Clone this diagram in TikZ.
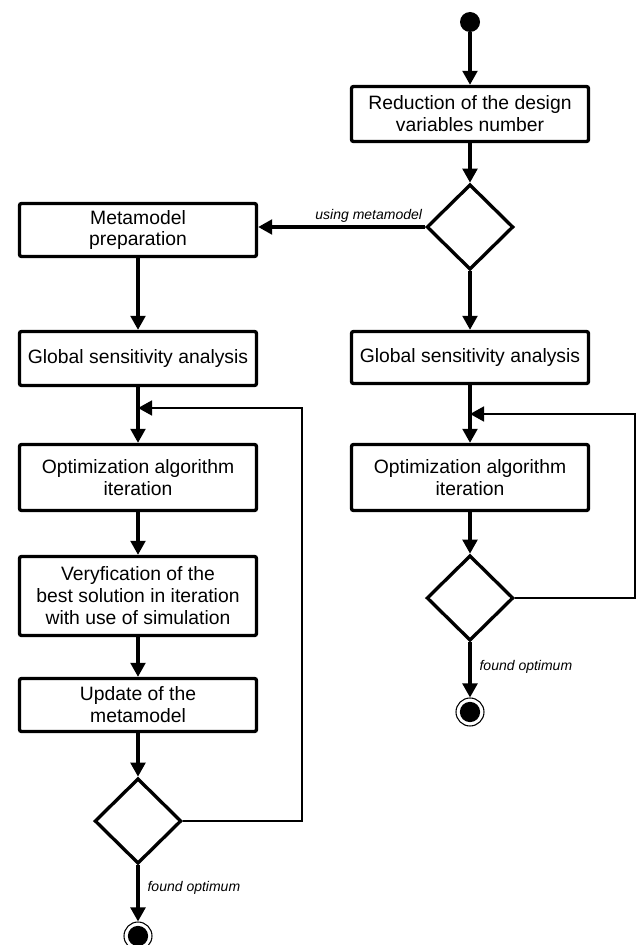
\documentclass[tikz,border=0pt]{standalone}
\usepackage{fontspec}
\setmainfont{Liberation Sans}
\usetikzlibrary{shapes.geometric,arrows.meta}
\begin{document}
\begin{tikzpicture}[x=0.75pt,y=-0.75pt,
  box/.style={draw, line width=2.5pt, rounded corners=1.5pt, minimum width=177.75pt, inner sep=2pt, align=center, font=\fontsize{14.5}{16.5}\selectfont},
  dia/.style={diamond, draw, line width=2.5pt, minimum width=65pt, minimum height=64pt, inner sep=0pt, aspect=1},
  arr/.style={line width=2.4pt, -{Triangle[length=10.5pt,width=11pt]}},
  loopl/.style={line width=2pt, -{Triangle[length=10.5pt,width=11pt]}},
  lab/.style={font=\itshape\fontsize{10.5}{12}\selectfont, inner sep=0pt},
  startc/.style={circle, fill, minimum size=15pt, inner sep=0pt},
  endc/.style={circle, draw, line width=0.8pt, minimum size=21pt, inner sep=0pt,
    path picture={\fill (path picture bounding box.center) circle (7.6pt);}}
]
\useasboundingbox (0,0) rectangle (639,945);

% right column
\node[startc] (start) at (470,22) {};
\node[box, minimum height=41.25pt] (red) at (470,114) {Reduction of the design\\variables number};
\node[dia] (d0) at (470,227) {};
\node[box, minimum height=39pt] (gsaR) at (470,357.5) {Global sensitivity analysis};
\node[box, minimum height=49.5pt] (optR) at (470,477.5) {Optimization algorithm\\iteration};
\node[dia] (dR) at (470,598) {};
\node[endc] (endR) at (470,712) {};
\coordinate (jR) at (470,414);

% left column
\node[box, minimum height=39.75pt] (meta) at (138,230) {Metamodel\\preparation};
\node[box, minimum height=40.5pt] (gsaL) at (138,358.5) {Global sensitivity analysis};
\node[box, minimum height=49.5pt] (optL) at (138,477.5) {Optimization algorithm\\iteration};
\node[box, minimum height=59.25pt] (verL) at (138,596) {Veryfication of the\\best solution in iteration\\with use of simulation};
\node[box, minimum height=39.75pt] (updL) at (138,705) {Update of the\\metamodel};
\node[dia] (dL) at (138,821) {};
\node[endc] (endL) at (138,936) {};
\coordinate (jL) at (138,408);

% connectors right
\draw[arr] (start) -- (red);
\draw[arr] (red) -- (d0);
\draw[arr] (d0.west) -- (d0.west -| meta.east)
  node[lab, pos=0, anchor=base east, xshift=-1pt, yshift=5.5pt] {using metamodel};
\draw[arr] (d0) -- (gsaR);
\draw[arr] (gsaR) -- (optR);
\draw[arr] (optR) -- (dR);
\draw[arr] (dR) -- (endR)
  node[lab, pos=0.45, anchor=west, xshift=6pt] {found optimum};
\draw[loopl] (dR.east) -- ++(120,0) |- (jR);

% connectors left
\draw[arr] (meta) -- (gsaL);
\draw[arr] (gsaL) -- (optL);
\draw[arr] (optL) -- (verL);
\draw[arr] (verL) -- (updL);
\draw[arr] (updL) -- (dL);
\draw[arr] (dL) -- (endL)
  node[lab, pos=0.4, anchor=west, xshift=6pt] {found optimum};
\draw[loopl] (dL.east) -- ++(119,0) |- (jL);
\end{tikzpicture}
\end{document}
